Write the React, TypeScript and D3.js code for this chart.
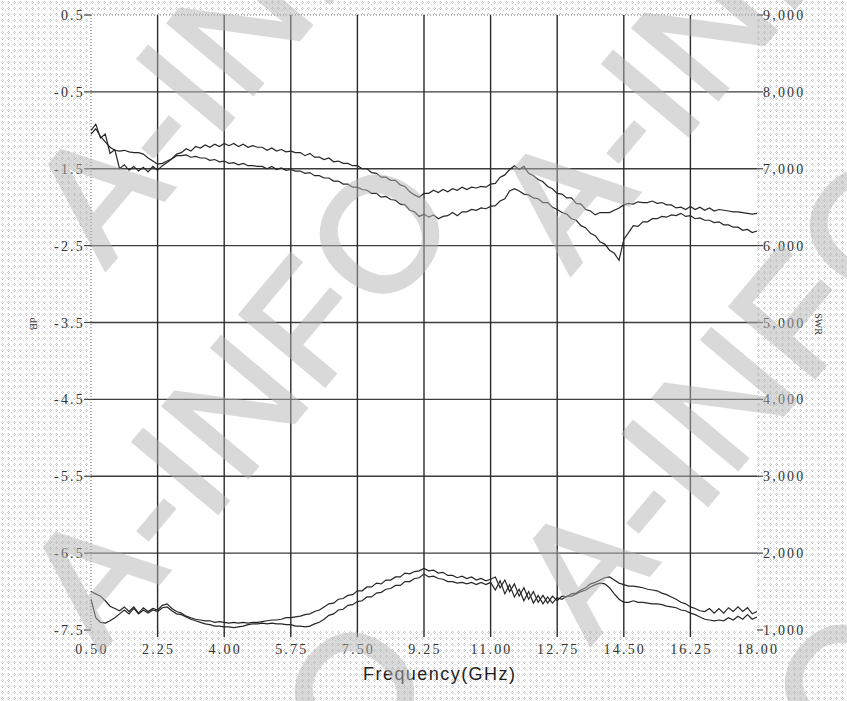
import React from 'react';
import * as d3 from 'd3';

const FREQ_TICKS = [0.5, 2.25, 4.0, 5.75, 7.5, 9.25, 11.0, 12.75, 14.5, 16.25, 18.0];
const FREQ_LABELS = ['0.50', '2.25', '4.00', '5.75', '7.50', '9.25', '11.00', '12.75', '14.50', '16.25', '18.00'];
const DB_TICKS = [0.5, -0.5, -1.5, -2.5, -3.5, -4.5, -5.5, -6.5, -7.5];
const DB_LABELS = ['0.5', '-0.5', '-1.5', '-2.5', '-3.5', '-4.5', '-5.5', '-6.5', '-7.5'];
const SWR_TICKS = [9, 8, 7, 6, 5, 4, 3, 2, 1];
const SWR_LABELS = ['9,000', '8,000', '7,000', '6,000', '5,000', '4,000', '3,000', '2,000', '1,000'];

// sampling grid of the sweep: 0.5 .. 18 GHz, 0.125 GHz step
const FREQ = d3.range(141).map((i) => 0.5 + i * 0.125);

// insertion loss, dB (left axis)
const LOSS_A = [
  -1.00, -0.92, -1.10, -1.05, -1.30, -1.25, -1.50, -1.45, -1.52, -1.47,
  -1.53, -1.48, -1.54, -1.47, -1.52, -1.46, -1.42, -1.37, -1.31, -1.29,
  -1.24, -1.27, -1.21, -1.23, -1.19, -1.22, -1.18, -1.21, -1.17, -1.20,
  -1.17, -1.21, -1.18, -1.22, -1.20, -1.22, -1.22, -1.26, -1.23, -1.27,
  -1.25, -1.28, -1.27, -1.29, -1.29, -1.33, -1.30, -1.35, -1.35, -1.38,
  -1.36, -1.41, -1.40, -1.43, -1.43, -1.46, -1.46, -1.50, -1.50, -1.55,
  -1.56, -1.61, -1.61, -1.65, -1.65, -1.71, -1.73, -1.80, -1.84, -1.87,
  -1.82, -1.82, -1.78, -1.81, -1.77, -1.80, -1.76, -1.78, -1.74, -1.77,
  -1.74, -1.75, -1.73, -1.74, -1.70, -1.69, -1.61, -1.58, -1.51, -1.46,
  -1.51, -1.47, -1.56, -1.59, -1.64, -1.67, -1.73, -1.76, -1.82, -1.83,
  -1.88, -1.88, -1.95, -1.96, -2.03, -2.05, -2.10, -2.07, -2.07, -2.07,
  -2.04, -2.01, -1.97, -1.95, -1.96, -1.93, -1.94, -1.94, -1.92, -1.95,
  -1.94, -1.97, -1.97, -2.01, -2.00, -2.03, -1.99, -2.03, -2.00, -2.04,
  -2.01, -2.05, -2.03, -2.04, -2.05, -2.06, -2.06, -2.07, -2.08, -2.09,
  -2.08,
];
const LOSS_B = [
  -1.05, -0.98, -1.08, -1.15, -1.22, -1.26, -1.27, -1.26, -1.28, -1.29,
  -1.29, -1.31, -1.36, -1.40, -1.44, -1.43, -1.40, -1.37, -1.33, -1.33,
  -1.32, -1.35, -1.34, -1.36, -1.36, -1.39, -1.38, -1.41, -1.40, -1.43,
  -1.42, -1.45, -1.43, -1.46, -1.46, -1.47, -1.47, -1.50, -1.47, -1.51,
  -1.49, -1.52, -1.51, -1.53, -1.53, -1.56, -1.55, -1.59, -1.59, -1.62,
  -1.62, -1.66, -1.66, -1.70, -1.70, -1.74, -1.74, -1.77, -1.78, -1.82,
  -1.82, -1.87, -1.86, -1.90, -1.91, -1.96, -1.97, -2.04, -2.06, -2.12,
  -2.09, -2.13, -2.10, -2.15, -2.12, -2.11, -2.07, -2.11, -2.06, -2.06,
  -2.03, -2.04, -2.01, -2.02, -1.99, -1.98, -1.92, -1.89, -1.79, -1.76,
  -1.79, -1.83, -1.84, -1.88, -1.89, -1.94, -1.94, -2.00, -2.03, -2.07,
  -2.09, -2.15, -2.17, -2.24, -2.27, -2.34, -2.37, -2.45, -2.48, -2.56,
  -2.60, -2.69, -2.42, -2.33, -2.24, -2.25, -2.19, -2.19, -2.15, -2.15,
  -2.12, -2.13, -2.10, -2.11, -2.08, -2.12, -2.11, -2.15, -2.14, -2.17,
  -2.17, -2.20, -2.19, -2.23, -2.23, -2.26, -2.26, -2.30, -2.29, -2.33,
  -2.31,
];

// standing wave ratio (right axis)
const SWR_A = [
  1.50, 1.47, 1.44, 1.38, 1.31, 1.28, 1.25, 1.30, 1.24, 1.30,
  1.22, 1.29, 1.24, 1.28, 1.26, 1.32, 1.34, 1.28, 1.24, 1.22,
  1.18, 1.16, 1.14, 1.13, 1.12, 1.12, 1.10, 1.11, 1.10, 1.09,
  1.10, 1.09, 1.10, 1.09, 1.10, 1.10, 1.11, 1.12, 1.13, 1.13,
  1.14, 1.16, 1.16, 1.17, 1.18, 1.20, 1.21, 1.24, 1.26, 1.30,
  1.34, 1.35, 1.40, 1.41, 1.45, 1.46, 1.51, 1.51, 1.56, 1.56,
  1.61, 1.60, 1.65, 1.65, 1.69, 1.69, 1.74, 1.73, 1.76, 1.77,
  1.80, 1.77, 1.78, 1.74, 1.75, 1.71, 1.71, 1.68, 1.70, 1.67,
  1.69, 1.65, 1.67, 1.64, 1.66, 1.69, 1.55, 1.65, 1.50, 1.60,
  1.44, 1.55, 1.40, 1.50, 1.36, 1.45, 1.35, 1.44, 1.38, 1.44,
  1.43, 1.47, 1.48, 1.52, 1.55, 1.60, 1.62, 1.65, 1.68, 1.69,
  1.65, 1.61, 1.59, 1.57, 1.57, 1.56, 1.55, 1.53, 1.52, 1.51,
  1.48, 1.46, 1.43, 1.40, 1.36, 1.34, 1.30, 1.28, 1.25, 1.24,
  1.28, 1.22, 1.28, 1.22, 1.29, 1.24, 1.30, 1.24, 1.29, 1.21,
  1.24,
];
const SWR_B = [
  1.40, 1.16, 1.10, 1.09, 1.12, 1.16, 1.21, 1.26, 1.21, 1.28,
  1.21, 1.26, 1.22, 1.26, 1.24, 1.29, 1.30, 1.25, 1.21, 1.20,
  1.17, 1.14, 1.12, 1.10, 1.08, 1.07, 1.05, 1.05, 1.04, 1.04,
  1.03, 1.04, 1.05, 1.07, 1.08, 1.08, 1.09, 1.08, 1.09, 1.08,
  1.08, 1.07, 1.07, 1.05, 1.05, 1.04, 1.05, 1.08, 1.10, 1.14,
  1.19, 1.21, 1.26, 1.27, 1.32, 1.33, 1.37, 1.38, 1.43, 1.43,
  1.48, 1.49, 1.53, 1.54, 1.58, 1.58, 1.63, 1.63, 1.67, 1.68,
  1.73, 1.69, 1.70, 1.67, 1.66, 1.63, 1.63, 1.61, 1.62, 1.60,
  1.62, 1.59, 1.62, 1.59, 1.62, 1.52, 1.64, 1.47, 1.59, 1.43,
  1.53, 1.38, 1.50, 1.35, 1.45, 1.34, 1.43, 1.35, 1.42, 1.40,
  1.44, 1.44, 1.47, 1.50, 1.52, 1.56, 1.59, 1.61, 1.60, 1.55,
  1.47, 1.40, 1.36, 1.36, 1.38, 1.36, 1.36, 1.35, 1.34, 1.34,
  1.33, 1.31, 1.30, 1.29, 1.26, 1.25, 1.22, 1.20, 1.17, 1.14,
  1.13, 1.12, 1.13, 1.12, 1.16, 1.13, 1.18, 1.14, 1.20, 1.14,
  1.17,
];

const W = 847;
const H = 701;
const L = 91;
const R = 757;
const T = 15;
const B = 630;

const WATERMARKS: [number, number][] = [
  [245, 17],
  [710, 22],
  [240, 400],
  [730, 392],
  [215, 858],
  [705, 850],
];

export default function App() {
  const x = d3.scaleLinear().domain([0.5, 18]).range([L, R]);
  const yDb = d3.scaleLinear().domain([-7.5, 0.5]).range([B, T]);
  const ySwr = d3.scaleLinear().domain([1, 9]).range([B, T]);

  const lineDb = d3
    .line<number>()
    .x((_, i) => x(FREQ[i]))
    .y((d) => yDb(d));
  const lineSwr = d3
    .line<number>()
    .x((_, i) => x(FREQ[i]))
    .y((d) => ySwr(d));

  const labelFont = "'Liberation Serif', 'DejaVu Serif', serif";
  const lineColor = '#262626';

  return (
    <svg
      width={W}
      height={H}
      viewBox={`0 0 ${W} ${H}`}
      style={{ position: 'absolute', left: 0, top: 0, display: 'block' }}
    >
      <defs>
        <pattern id="dots" width="6" height="6" patternUnits="userSpaceOnUse">
          <rect width="6" height="6" fill="#ffffff" />
          <rect x="2" y="1" width="1" height="1" fill="#bdbdbd" />
          <rect x="1" y="2" width="1" height="1" fill="#cfcfcf" />
          <rect x="3" y="2" width="1" height="1" fill="#cfcfcf" />
          <rect x="2" y="3" width="1" height="1" fill="#bdbdbd" />
          <rect x="5" y="4" width="1" height="1" fill="#dadada" />
        </pattern>
      </defs>

      <rect x={0} y={0} width={W} height={H} fill="url(#dots)" />
      <rect x={L} y={T} width={R - L} height={B - T} fill="#ffffff" />

      {/* dotted top and left frame */}
      <line x1={L} x2={R} y1={T} y2={T} stroke="#777" strokeWidth={1.2} strokeDasharray="1 2" />
      <line x1={L} x2={L} y1={T} y2={B} stroke="#777" strokeWidth={1.2} strokeDasharray="1 2" />

      {/* horizontal grid + ticks */}
      {DB_TICKS.map((v, i) => {
        const y = yDb(v);
        const inner = i > 0 && i < DB_TICKS.length - 1;
        return (
          <g key={`h${i}`}>
            {inner && (
              <line x1={L} x2={R} y1={y} y2={y} stroke="#3c3c3c" strokeWidth={1.4} />
            )}
            <line x1={L - 7} x2={L} y1={y} y2={y} stroke="#444" strokeWidth={1.2} />
            <line x1={R} x2={R + 6} y1={y} y2={y} stroke="#444" strokeWidth={1.2} />
          </g>
        );
      })}

      {/* vertical grid + ticks */}
      {FREQ_TICKS.map((v, i) => {
        const xx = x(v);
        const inner = i > 0 && i < FREQ_TICKS.length - 1;
        return inner ? (
          <line key={`v${i}`} x1={xx} x2={xx} y1={T} y2={B + 7} stroke="#2a2a2a" strokeWidth={1.4} />
        ) : null;
      })}

      {/* curves */}
      <path d={lineDb(LOSS_A) || ''} fill="none" stroke={lineColor} strokeWidth={1.2} />
      <path d={lineDb(LOSS_B) || ''} fill="none" stroke={lineColor} strokeWidth={1.2} />
      <path d={lineSwr(SWR_A) || ''} fill="none" stroke={lineColor} strokeWidth={1.2} />
      <path d={lineSwr(SWR_B) || ''} fill="none" stroke={lineColor} strokeWidth={1.2} />

      {/* left labels */}
      {DB_TICKS.map((v, i) => (
        <text
          key={`dl${i}`}
          x={L - 6}
          y={yDb(v) + 5}
          textAnchor="end"
          fontFamily={labelFont}
          fontSize={14}
          letterSpacing={2.2}
          fill="#333"
        >
          {DB_LABELS[i]}
        </text>
      ))}

      {/* right labels */}
      {SWR_TICKS.map((v, i) => (
        <text
          key={`sl${i}`}
          x={R + 6}
          y={ySwr(v) + 5}
          textAnchor="start"
          fontFamily={labelFont}
          fontSize={14}
          letterSpacing={2.2}
          fill="#333"
        >
          {SWR_LABELS[i]}
        </text>
      ))}

      {/* bottom labels */}
      {FREQ_TICKS.map((v, i) => (
        <text
          key={`fl${i}`}
          x={x(v) + 1}
          y={654}
          textAnchor="middle"
          fontFamily={labelFont}
          fontSize={14}
          letterSpacing={2.2}
          fill="#333"
        >
          {FREQ_LABELS[i]}
        </text>
      ))}

      <text
        x={439}
        y={680}
        textAnchor="middle"
        fontFamily="'Liberation Sans', Arial, sans-serif"
        fontSize={18}
        textLength={152}
        fill="#1e1e1e"
      >
        Frequency(GHz)
      </text>

      <text
        transform="translate(30,324) rotate(90)"
        textAnchor="middle"
        fontFamily={labelFont}
        fontSize={11}
        fill="#333"
      >
        dB
      </text>
      <text
        transform="translate(815,324) rotate(90)"
        textAnchor="middle"
        fontFamily={labelFont}
        fontSize={10}
        fill="#333"
      >
        SWR
      </text>

      {/* watermark */}
      {WATERMARKS.map(([cx, cy], i) => (
        <text
          key={`wm${i}`}
          transform={`translate(${cx},${cy}) rotate(-50)`}
          textAnchor="middle"
          dominantBaseline="central"
          fontFamily="'Liberation Sans', Arial, sans-serif"
          fontSize={160}
          letterSpacing={4}
          fill="#b4b4b4"
          stroke="#b4b4b4"
          strokeWidth={4}
          opacity={0.5}
        >
          A-INFO
        </text>
      ))}
    </svg>
  );
}
